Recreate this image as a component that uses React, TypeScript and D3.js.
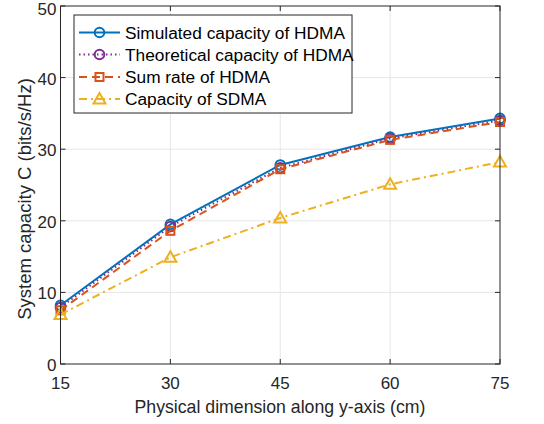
import React from "react";
import * as d3 from "d3";

const xValues = [15, 30, 45, 60, 75];
const simulated = [8.2, 19.5, 27.8, 31.7, 34.3];
const theoretical = [7.9, 19.2, 27.4, 31.5, 34.0];
const sumRate = [7.5, 18.6, 27.2, 31.3, 33.8];
const sdma = [6.9, 14.9, 20.4, 25.1, 28.2];
const xTicks = [15, 30, 45, 60, 75];
const yTicks = [0, 10, 20, 30, 40, 50];
const seriesNames = [
  "Simulated capacity of HDMA",
  "Theoretical capacity of HDMA",
  "Sum rate of HDMA",
  "Capacity of SDMA",
];
const colors = ["#0072BD", "#7E2F8E", "#D95319", "#EDB120"];
const dashes = ["", "1.5 3", "8 5", "8 4 2 4"];
const markers = ["circle", "circle", "square", "triangle"];

const W = 544, H = 424;
const L = 60.5, R = 500, T = 6, B = 364;
const FONT = "'Liberation Sans', Arial, sans-serif";

function Marker({ type, cx, cy, color }: { type: string; cx: number; cy: number; color: string }) {
  if (type === "circle") return <circle cx={cx} cy={cy} r={4.8} fill="none" stroke={color} strokeWidth={2} />;
  if (type === "square") return <rect x={cx - 4} y={cy - 4} width={8} height={8} fill="none" stroke={color} strokeWidth={2} />;
  const s = 6;
  return (
    <path
      d={`M${cx},${cy - s} L${cx + s},${cy + s * 0.75} L${cx - s},${cy + s * 0.75} Z`}
      fill="none"
      stroke={color}
      strokeWidth={2}
    />
  );
}

export default function App() {
  const x = d3.scaleLinear().domain([15, 75]).range([L, R]);
  const y = d3.scaleLinear().domain([0, 50]).range([B, T]);
  const data = [simulated, theoretical, sumRate, sdma];
  const line = d3
    .line<number>()
    .x((_, i) => x(xValues[i]))
    .y((d) => y(d));

  const gridColor = "#e6e6e6";
  const axisColor = "#262626";
  const legendRows = [32.5, 54.5, 77, 99];

  return (
    <svg width={W} height={H} style={{ position: "absolute", left: 0, top: 0, background: "#fff" }}>
      <rect x={0} y={0} width={W} height={H} fill="#fff" />
      {xTicks.slice(1, -1).map((t) => (
        <line key={"gx" + t} x1={x(t)} x2={x(t)} y1={T} y2={B} stroke={gridColor} strokeWidth={1} />
      ))}
      {yTicks.slice(1, -1).map((t) => (
        <line key={"gy" + t} x1={L} x2={R} y1={y(t)} y2={y(t)} stroke={gridColor} strokeWidth={1} />
      ))}
      {/* ticks */}
      {xTicks.map((t) => (
        <g key={"tx" + t}>
          <line x1={x(t)} x2={x(t)} y1={B} y2={B - 5} stroke={axisColor} />
          <line x1={x(t)} x2={x(t)} y1={T} y2={T + 5} stroke={axisColor} />
          <text x={x(t)} y={388.5} textAnchor="middle" fontFamily={FONT} fontSize={17} fill={axisColor}>
            {t}
          </text>
        </g>
      ))}
      {yTicks.map((t) => (
        <g key={"ty" + t}>
          <line x1={L} x2={L + 5} y1={y(t)} y2={y(t)} stroke={axisColor} />
          <line x1={R} x2={R - 5} y1={y(t)} y2={y(t)} stroke={axisColor} />
          <text
            x={56.5}
            y={Math.max(y(t) + 7, 15)}
            textAnchor="end"
            fontFamily={FONT}
            fontSize={17}
            fill={axisColor}
          >
            {t}
          </text>
        </g>
      ))}
      {/* series */}
      {data.map((vals, k) => (
        <g key={"s" + k}>
          <path
            d={line(vals) || ""}
            fill="none"
            stroke={colors[k]}
            strokeWidth={2}
            strokeDasharray={dashes[k] || undefined}
          />
          {vals.map((v, i) => (
            <Marker key={i} type={markers[k]} cx={x(xValues[i])} cy={y(v)} color={colors[k]} />
          ))}
        </g>
      ))}
      {/* axes box */}
      <rect x={L} y={T} width={R - L} height={B - T} fill="none" stroke={axisColor} strokeWidth={1} />
      {/* labels */}
      <text x={280} y={413} textAnchor="middle" fontFamily={FONT} fontSize={17.7} fill={axisColor}>
        Physical dimension along y-axis (cm)
      </text>
      <text
        transform={`translate(31,${199}) rotate(-90)`}
        textAnchor="middle"
        fontFamily={FONT}
        fontSize={18.5}
        fill={axisColor}
      >
        System capacity C (bits/s/Hz)
      </text>
      {/* legend */}
      <rect x={74} y={15} width={278} height={98} fill="#fff" stroke={axisColor} strokeWidth={1} />
      {seriesNames.map((name, k) => (
        <g key={"lg" + k}>
          <line
            x1={79}
            x2={120}
            y1={legendRows[k]}
            y2={legendRows[k]}
            stroke={colors[k]}
            strokeWidth={2}
            strokeDasharray={dashes[k] || undefined}
          />
          <Marker type={markers[k]} cx={99.5} cy={legendRows[k]} color={colors[k]} />
          <text x={125} y={legendRows[k] + 6} fontFamily={FONT} fontSize={17.3} fill="#000">
            {name}
          </text>
        </g>
      ))}
    </svg>
  );
}
